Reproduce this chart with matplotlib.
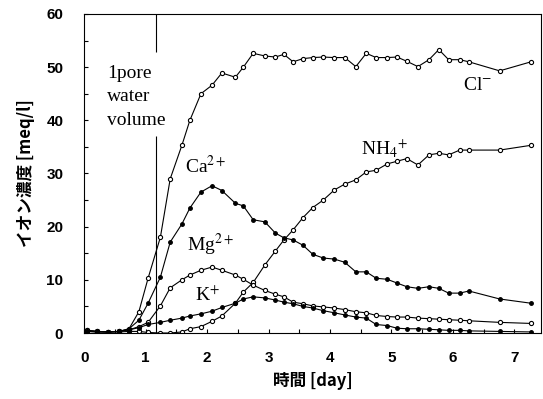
import matplotlib.pyplot as plt
from matplotlib.ticker import MultipleLocator

# sampling time [day]
t = [0.05, 0.21, 0.39, 0.57, 0.73, 0.89, 1.04, 1.24, 1.40, 1.59,
     1.72, 1.90, 2.08, 2.24, 2.46, 2.59, 2.75, 2.94, 3.11, 3.25,
     3.40, 3.56, 3.72, 3.89, 4.07, 4.24, 4.42, 4.59, 4.75, 4.93,
     5.09, 5.25, 5.43, 5.61, 5.77, 5.93, 6.11, 6.26, 6.76, 7.27]

cl = [0.5, 0.3, 0.2, 0.3, 0.8, 4.0, 10.3, 18.0, 29.0, 35.3,
      40.0, 45.0, 46.6, 48.9, 48.1, 50.0, 52.6, 52.1, 51.9, 52.4,
      51.0, 51.6, 51.8, 51.9, 51.8, 51.8, 50.1, 52.6, 51.8, 51.8,
      51.9, 51.1, 50.1, 51.4, 53.3, 51.4, 51.4, 51.0, 49.3, 51.0]

ca = [0.3, 0.2, 0.2, 0.3, 0.8, 2.4, 5.6, 10.5, 17.1, 20.5,
      23.5, 26.5, 27.7, 26.8, 24.4, 23.9, 21.3, 20.9, 18.8, 17.9,
      17.5, 16.5, 14.8, 14.1, 13.9, 13.3, 11.5, 11.5, 10.3, 10.1,
      9.4, 8.7, 8.4, 8.7, 8.4, 7.5, 7.5, 7.9, 6.4, 5.6]

nh4 = [0.3, 0.2, 0.2, 0.2, 0.3, 0.3, 0.1, 0.0, 0.0, 0.2,
       0.8, 1.2, 2.2, 3.2, 5.6, 7.7, 9.5, 12.8, 15.4, 17.5,
       19.4, 21.7, 23.6, 25.0, 26.9, 28.0, 28.8, 30.3, 30.6, 31.8,
       32.3, 32.8, 31.6, 33.5, 33.8, 33.5, 34.4, 34.4, 34.4, 35.3]

mg = [0.5, 0.3, 0.2, 0.3, 0.6, 1.2, 2.0, 5.1, 8.5, 10.0,
      10.9, 11.8, 12.4, 11.8, 10.9, 10.1, 9.0, 8.0, 7.3, 6.8,
      5.8, 5.5, 5.1, 4.9, 4.7, 4.4, 4.0, 3.8, 3.3, 3.1,
      3.0, 3.0, 2.8, 2.7, 2.6, 2.5, 2.4, 2.3, 2.0, 1.8]

k = [0.4, 0.3, 0.2, 0.3, 0.6, 1.0, 1.6, 2.0, 2.4, 2.8,
     3.2, 3.6, 4.1, 4.8, 5.6, 6.4, 6.8, 6.6, 6.2, 5.8,
     5.5, 5.0, 4.7, 4.2, 3.8, 3.4, 3.0, 2.8, 1.6, 1.4,
     0.9, 0.8, 0.8, 0.7, 0.6, 0.5, 0.5, 0.4, 0.3, 0.2]

pore_volume_day = 1.17

plt.rcParams['font.family'] = ['Noto Sans CJK JP', 'DejaVu Sans']
plt.rcParams['mathtext.fontset'] = 'stix'

fig = plt.figure(figsize=(5.43, 3.99), dpi=100)
ax = fig.add_axes([0.155, 0.1654, 0.841, 0.7996])

open_style = dict(color='black', lw=0.8, marker='o', ms=3.0, mfc='white', mec='black', mew=0.8)
filled_style = dict(color='black', lw=0.8, marker='o', ms=2.5, mfc='black', mec='black')

ax.plot(t, cl, **open_style)
ax.plot(t, nh4, **open_style)
ax.plot(t, mg, **open_style)
ax.plot(t, ca, **filled_style)
ax.plot(t, k, **filled_style)

ax.vlines(pore_volume_day, 0, 37, color='black', lw=0.8)
ax.vlines(pore_volume_day, 52.8, 60, color='black', lw=0.8)

serif = ['Liberation Serif', 'DejaVu Serif']
ax.text(0.37, 44.4, '1pore\nwater\nvolume', family=serif, fontsize=14,
        va='center', ha='left', linespacing=1.5)
ax.text(6.4, 46.6, r'Cl$^{-}$', family=serif, fontsize=14, ha='center', va='center')
ax.text(4.88, 34.6, r'NH$_4$$^{+}$', family=serif, fontsize=14, ha='center', va='center')
ax.text(1.97, 31.4, r'Ca$^{2+}$', family=serif, fontsize=14, ha='center', va='center')
ax.text(2.05, 16.5, r'Mg$^{2+}$', family=serif, fontsize=14, ha='center', va='center')
ax.text(2.0, 7.2, r'K$^{+}$', family=serif, fontsize=14, ha='center', va='center')

ax.set_xlim(0, 7.43)
ax.set_ylim(0, 60)
ax.xaxis.set_major_locator(MultipleLocator(1))
ax.xaxis.set_minor_locator(MultipleLocator(0.5))
ax.yaxis.set_major_locator(MultipleLocator(10))
ax.yaxis.set_minor_locator(MultipleLocator(5))
ax.tick_params(which='both', direction='in', length=3, width=0.8, labelsize=11)
ax.tick_params(axis='y', pad=15)
ax.tick_params(axis='x', pad=13)
for lab in ax.get_xticklabels() + ax.get_yticklabels():
    lab.set_fontweight('bold')
    lab.set_family(['Liberation Sans', 'DejaVu Sans'])

ax.set_xlabel('時間 [day]', fontsize=12, fontweight='bold', labelpad=5)
ax.set_ylabel('イオン濃度 [meq/l]', fontsize=12, fontweight='bold', labelpad=8)

fig.savefig('out.png', dpi=100)
